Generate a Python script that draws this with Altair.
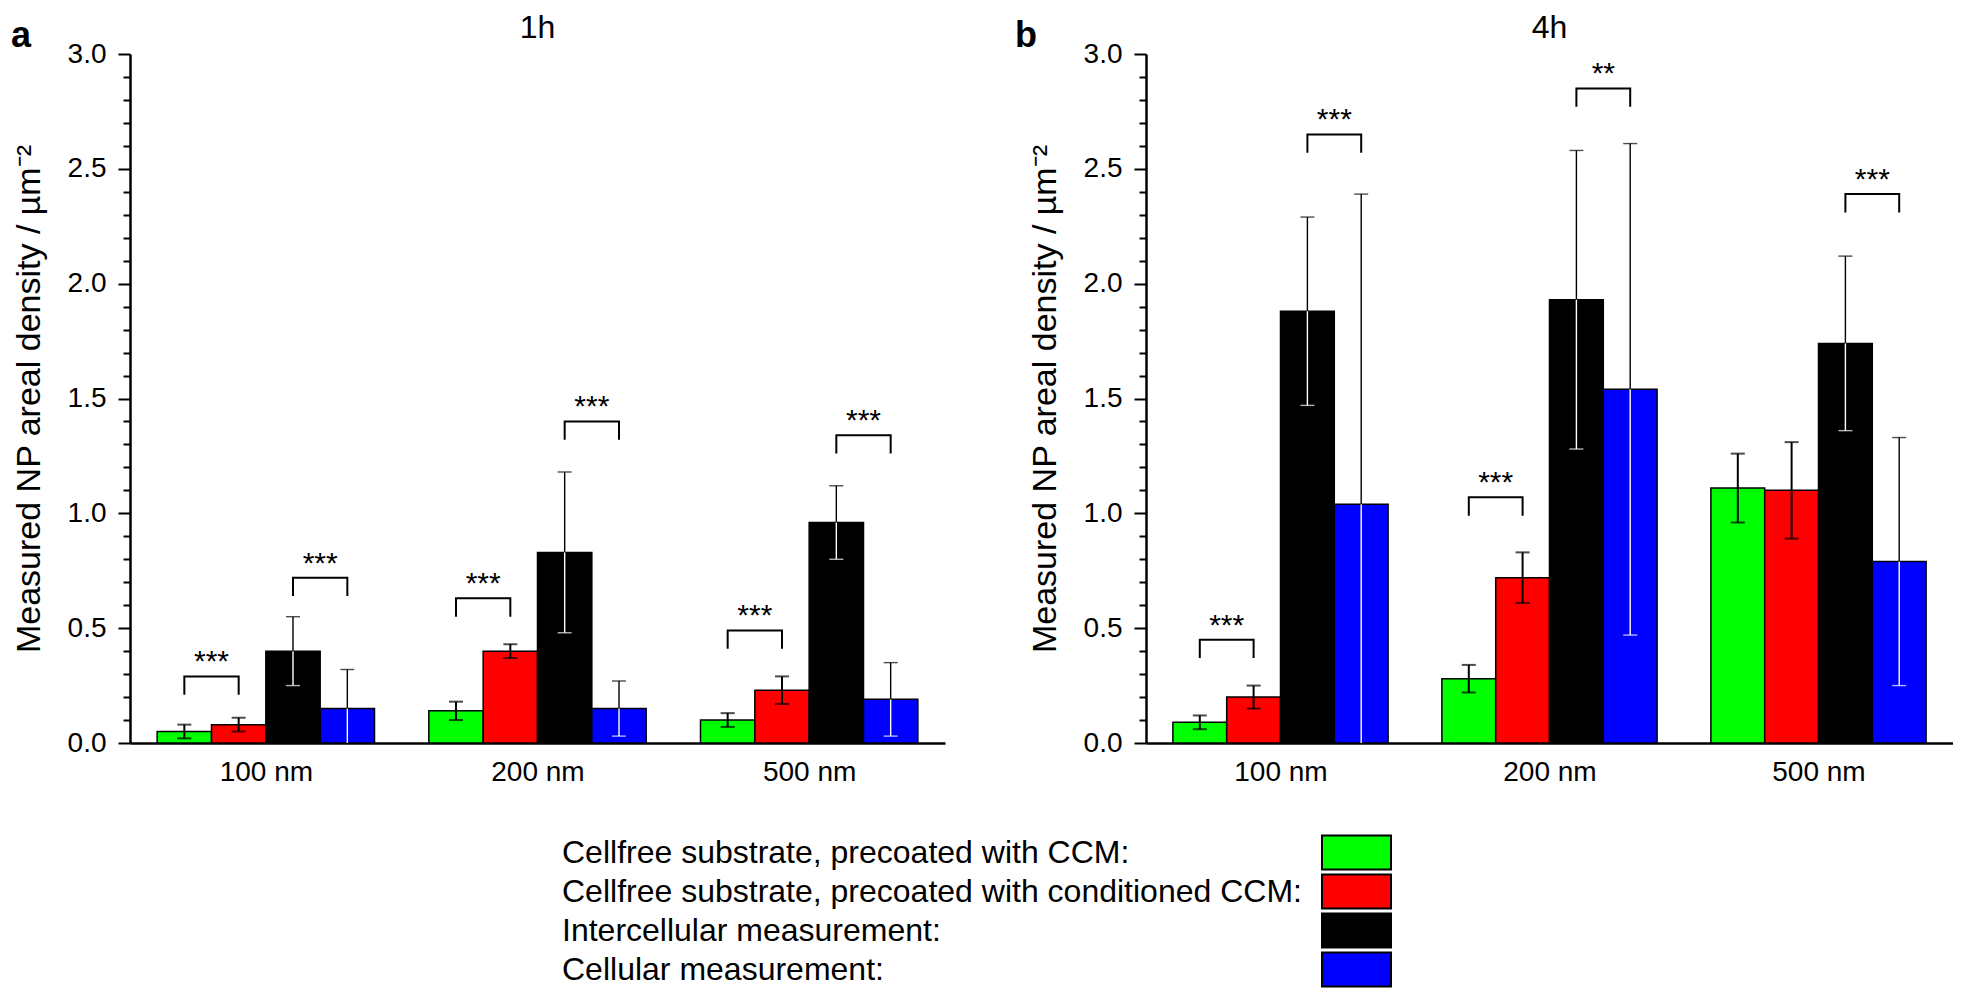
import altair as alt
import pandas as pd

FONT = "Liberation Sans"

sizes = ["100 nm", "200 nm", "500 nm"]
series = [
    "Cellfree substrate, precoated with CCM:",
    "Cellfree substrate, precoated with conditioned CCM:",
    "Intercellular measurement:",
    "Cellular measurement:",
]
colors = ["#00ff00", "#ff0000", "#000000", "#0000ff"]

# 1 h  (mean, SD) per size: 100, 200, 500 nm
green_1h = [0.05, 0.14, 0.10]
green_1h_sd = [0.03, 0.04, 0.03]
red_1h = [0.08, 0.40, 0.23]
red_1h_sd = [0.03, 0.03, 0.06]
black_1h = [0.40, 0.83, 0.96]
black_1h_sd = [0.15, 0.35, 0.16]
blue_1h = [0.15, 0.15, 0.19]
blue_1h_sd = [0.17, 0.12, 0.16]

# 4 h
green_4h = [0.09, 0.28, 1.11]
green_4h_sd = [0.03, 0.06, 0.15]
red_4h = [0.20, 0.72, 1.10]
red_4h_sd = [0.05, 0.11, 0.21]
black_4h = [1.88, 1.93, 1.74]
black_4h_sd = [0.41, 0.65, 0.38]
blue_4h = [1.04, 1.54, 0.79]
blue_4h_sd = [1.35, 1.07, 0.54]

# significance brackets
br_1h_size = [0, 0, 1, 1, 2, 2]
br_1h_left = [0, 2, 0, 2, 0, 2]
br_1h_right = [1, 3, 1, 3, 1, 3]
br_1h_top = [0.29, 0.72, 0.63, 1.40, 0.49, 1.34]
br_1h_text = ["***", "***", "***", "***", "***", "***"]

br_4h_size = [0, 0, 1, 1, 2]
br_4h_left = [0, 2, 0, 2, 2]
br_4h_right = [1, 3, 1, 3, 3]
br_4h_top = [0.45, 2.65, 1.07, 2.85, 2.39]
br_4h_text = ["***", "***", "***", "**", "***"]

yticks = [round(i * 0.1, 1) for i in range(31)]

BAR_W = 0.2
LEG = 0.08
Y_TITLE = "Measured NP areal density / µm⁻²"


def center(g, k):
    return g + (k - 1.5) * BAR_W


def bar_frame(means, sds):
    rows = []
    for k, (m, s) in enumerate(zip(means, sds)):
        for g in range(len(sizes)):
            v, e = m[g], s[g]
            lo = v - e
            c = center(g, k)
            rows.append(dict(series=series[k], k=k, g=g, value=v,
                             x0=c - BAR_W / 2, x1=c + BAR_W / 2, xc=c,
                             hi=v + e, lo=max(lo, 0.0), has_lo=bool(lo > 0)))
    return pd.DataFrame(rows)


def bracket_frames(sz, left, right, top, text):
    pts, labs = [], []
    for i, (g, a, b, t, s) in enumerate(zip(sz, left, right, top, text)):
        xa, xb = center(g, a), center(g, b)
        for o, (bx, by) in enumerate([(xa, t - LEG), (xa, t), (xb, t), (xb, t - LEG)]):
            pts.append(dict(id=i, o=o, bx=bx, by=by))
        labs.append(dict(sx=(xa + xb) / 2, sy=t, label=s))
    return pd.DataFrame(pts), pd.DataFrame(labs)


MAJOR = "abs(datum.value * 2 - round(datum.value * 2)) < 0.001"
label_arr = "[" + ",".join("'" + s + "'" for s in sizes) + "]"

x_scale = alt.Scale(domain=[-0.5, len(sizes) - 0.5], nice=False, zero=False)
y_scale = alt.Scale(domain=[0, 3], nice=False, zero=True)

x_axis = alt.Axis(values=list(range(len(sizes))), labelExpr=label_arr + "[datum.value]",
                  ticks=False, grid=False, title=None, domainWidth=2.5, domainColor="black",
                  labelFontSize=28, labelFont=FONT, labelColor="black", labelPadding=15)
y_axis = alt.Axis(values=yticks,
                  labelExpr=MAJOR + " ? format(datum.value, '.1f') : ''",
                  title=Y_TITLE, titleFontSize=34,
                  titleFont=FONT, titleFontWeight="normal", titleColor="black",
                  titlePadding=21, labelFontSize=28, labelFont=FONT, labelColor="black",
                  labelPadding=12,
                  tickSize={"condition": {"test": MAJOR, "value": 12}, "value": 7},
                  tickWidth=2, tickColor="black", domainColor="black", domainWidth=2.5,
                  grid=False, labelOverlap=False, labelFlush=False)


def X(f):
    return alt.X(f, scale=x_scale, axis=x_axis, title=None)


def Y(f):
    return alt.Y(f, scale=y_scale, axis=y_axis, title=Y_TITLE)


def panel(df, brs, title, letter, letter_x, width):
    pts, labs = brs
    base = alt.Chart(df)

    bars = base.mark_rect(stroke="black", strokeWidth=1.5).encode(
        x=X("x0:Q"),
        x2="x1:Q",
        y=Y("value:Q"),
        y2=alt.datum(0),
        color=alt.Color("series:N", scale=alt.Scale(domain=series, range=colors), legend=None),
    )
    layers = [bars]
    for light in (True, False):
        flt = "datum.k < 2" if light else "datum.k >= 2"
        lw = 2.0 if light else 1.4
        low_col = "black" if light else "white"
        b = base.transform_filter(flt)
        layers.append(b.mark_rule(color="black", strokeWidth=lw).encode(
            x=X("xc:Q"), y=Y("value:Q"), y2="hi:Q"))
        layers.append(b.mark_rule(color=low_col, strokeWidth=lw).encode(
            x=X("xc:Q"), y=Y("lo:Q"), y2="value:Q"))
        layers.append(b.mark_tick(orient="horizontal", size=14, thickness=lw, color="black").encode(
            x=X("xc:Q"), y=Y("hi:Q")))
        layers.append(b.transform_filter("datum.has_lo").mark_tick(
            orient="horizontal", size=14, thickness=lw, color=low_col).encode(
            x=X("xc:Q"), y=Y("lo:Q")))

    layers.append(alt.Chart(pts).mark_line(color="black", strokeWidth=2).encode(
        x=X("bx:Q"), y=Y("by:Q"), detail="id:N", order="o:Q"))
    layers.append(alt.Chart(labs).mark_text(fontSize=30, font=FONT, baseline="alphabetic",
                                            dy=-5, color="black").encode(
        x=X("sx:Q"), y=Y("sy:Q"), text="label:N"))
    # panel letter and panel title
    layers.append(alt.Chart(pd.DataFrame({"t": [letter]})).mark_text(
        fontSize=36, font=FONT, fontWeight="bold", align="left", baseline="alphabetic",
        color="black").encode(x=alt.value(letter_x), y=alt.value(-7), text="t:N"))
    layers.append(alt.Chart(pd.DataFrame({"t": [title]})).mark_text(
        fontSize=32, font=FONT, align="center", baseline="alphabetic",
        color="black").encode(x=alt.value(width / 2), y=alt.value(-16), text="t:N"))

    return alt.layer(*layers).properties(width=width, height=689)


df1 = bar_frame([green_1h, red_1h, black_1h, blue_1h],
                [green_1h_sd, red_1h_sd, black_1h_sd, blue_1h_sd])
df4 = bar_frame([green_4h, red_4h, black_4h, blue_4h],
                [green_4h_sd, red_4h_sd, black_4h_sd, blue_4h_sd])
b1 = bracket_frames(br_1h_size, br_1h_left, br_1h_right, br_1h_top, br_1h_text)
b4 = bracket_frames(br_4h_size, br_4h_left, br_4h_right, br_4h_top, br_4h_text)

pa = panel(df1, b1, "1h", "a", -119, 815)
pb = panel(df4, b4, "4h", "b", -131, 807)

leg_df = pd.DataFrame({"label": series, "color": colors})
leg_y = alt.Y("label:N", sort=series, axis=None,
              scale=alt.Scale(paddingInner=0.13, paddingOuter=0.065))
leg_text = alt.Chart(leg_df).mark_text(align="left", baseline="middle", fontSize=32,
                                       font=FONT, color="black").encode(
    x=alt.value(432), y=leg_y, text="label:N")
leg_sw = alt.Chart(leg_df).mark_rect(stroke="black", strokeWidth=2).encode(
    x=alt.value(1192), x2=alt.value(1261), y=leg_y,
    color=alt.Color("color:N", scale=None))
legend = alt.layer(leg_text, leg_sw).properties(width=1263, height=156)

chart = alt.vconcat(
    alt.hconcat(pa, pb, spacing=70),
    legend,
    spacing=47,
).properties(padding={"left": 3, "top": 4, "right": 0, "bottom": 0}).configure_view(stroke=None)

chart.save("out.html", embed_options={"renderer": "svg", "actions": False})
